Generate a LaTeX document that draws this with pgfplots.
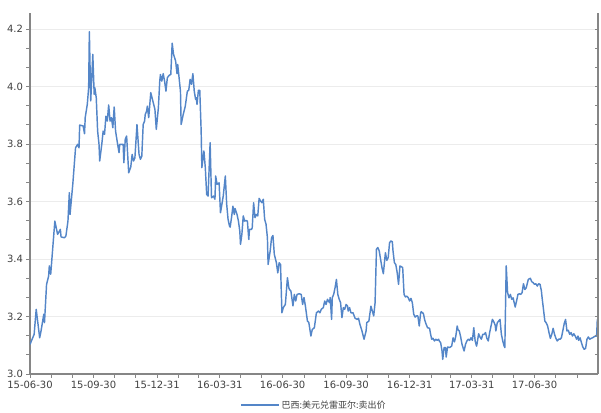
\documentclass[border=0pt]{standalone}
\usepackage{pgfplots}
\pgfplotsset{compat=1.18}
\usepackage{pgfplotstable}
\usepackage{fontspec}
\setmainfont{DejaVu Sans}
\newfontfamily\cjk{Noto Sans CJK SC}

\definecolor{brl}{RGB}{84,134,200}
\definecolor{axgray}{RGB}{134,134,134}
\definecolor{txtgray}{RGB}{64,64,64}
\definecolor{gridgray}{RGB}{236,236,236}

% days since 2015-06-30, BRL per USD (sell)
\pgfplotstableread{
day rate
0 3.103
6 3.138
9 3.225
14 3.126
16 3.150
20 3.208
21 3.179
24 3.312
27 3.341
28 3.376
30 3.347
36 3.532
40 3.486
44 3.503
45 3.477
50 3.474
52 3.480
55 3.532
57 3.631
58 3.555
62 3.660
66 3.787
69 3.799
71 3.787
72 3.866
77 3.863
79 3.836
80 3.892
83 3.938
85 3.996
86 4.191
88 3.950
91 4.112
93 3.973
94 3.996
96 3.961
98 3.845
100 3.799
101 3.741
104 3.799
106 3.845
108 3.834
110 3.897
112 3.880
114 3.936
116 3.880
118 3.892
120 3.857
122 3.929
124 3.845
127 3.799
129 3.770
130 3.799
135 3.799
136 3.735
138 3.816
140 3.828
143 3.700
146 3.720
148 3.764
150 3.741
152 3.752
155 3.868
158 3.764
160 3.747
162 3.758
164 3.868
166 3.880
167 3.903
169 3.915
170 3.932
172 3.892
175 3.979
178 3.950
181 3.921
183 3.851
186 3.926
188 4.019
189 4.042
191 4.019
193 4.045
195 4.019
197 3.984
199 4.031
202 4.040
204 4.042
206 4.151
208 4.112
211 4.089
213 4.045
214 4.077
216 4.031
218 3.984
219 3.868
222 3.903
225 3.932
228 3.984
230 3.987
232 4.025
234 4.008
236 4.045
238 3.984
240 3.955
241 3.961
242 3.938
244 3.987
246 3.987
248 3.845
249 3.718
252 3.776
254 3.718
256 3.625
258 3.619
261 3.805
263 3.613
266 3.619
268 3.608
269 3.689
271 3.660
274 3.665
276 3.561
278 3.590
280 3.619
283 3.689
285 3.590
287 3.538
289 3.515
290 3.511
292 3.544
294 3.584
296 3.555
297 3.576
300 3.555
302 3.532
304 3.497
305 3.451
307 3.486
309 3.550
311 3.532
313 3.534
315 3.532
317 3.468
318 3.503
321 3.503
322 3.509
324 3.596
326 3.544
328 3.555
330 3.550
332 3.611
334 3.602
336 3.596
338 3.608
340 3.538
342 3.521
344 3.474
345 3.381
348 3.428
350 3.474
352 3.482
354 3.416
357 3.387
359 3.352
361 3.387
363 3.381
365 3.213
367 3.231
370 3.242
373 3.335
375 3.300
376 3.294
378 3.289
381 3.237
383 3.277
385 3.254
387 3.277
390 3.279
393 3.277
395 3.242
397 3.266
399 3.237
402 3.184
404 3.179
407 3.132
409 3.155
412 3.161
415 3.213
418 3.219
420 3.213
422 3.225
425 3.231
427 3.254
429 3.242
431 3.260
434 3.248
435 3.266
437 3.190
438 3.266
440 3.277
442 3.300
444 3.329
446 3.277
448 3.260
450 3.248
452 3.196
454 3.231
456 3.225
458 3.242
460 3.237
461 3.219
463 3.231
465 3.213
468 3.213
471 3.194
474 3.190
476 3.194
478 3.173
481 3.150
484 3.121
487 3.150
488 3.179
491 3.184
494 3.236
496 3.219
498 3.202
500 3.248
502 3.434
504 3.440
506 3.428
508 3.399
510 3.370
512 3.349
514 3.399
515 3.422
517 3.395
519 3.405
521 3.457
523 3.463
525 3.460
526 3.428
528 3.387
530 3.381
532 3.353
534 3.312
536 3.376
539 3.372
540 3.370
542 3.277
544 3.268
546 3.271
548 3.266
550 3.254
552 3.263
554 3.248
556 3.208
558 3.198
560 3.202
562 3.202
564 3.167
566 3.213
567 3.217
570 3.210
572 3.187
574 3.173
576 3.161
579 3.159
580 3.144
582 3.121
584 3.124
586 3.115
588 3.121
590 3.117
592 3.121
593 3.115
595 3.109
597 3.080
598 3.051
600 3.092
602 3.092
603 3.059
605 3.094
608 3.092
611 3.097
613 3.126
615 3.112
617 3.132
619 3.167
620 3.155
622 3.150
624 3.129
626 3.103
629 3.080
631 3.103
633 3.115
635 3.121
637 3.117
639 3.126
641 3.117
643 3.161
645 3.115
647 3.097
648 3.109
650 3.140
652 3.129
654 3.121
656 3.138
658 3.138
660 3.144
662 3.124
664 3.115
666 3.144
668 3.167
670 3.190
672 3.182
674 3.170
675 3.150
677 3.178
679 3.184
681 3.190
683 3.138
685 3.115
687 3.097
688 3.092
690 3.376
692 3.283
694 3.265
696 3.277
698 3.260
700 3.265
701 3.254
703 3.233
705 3.254
707 3.277
709 3.279
711 3.277
713 3.283
715 3.314
717 3.294
719 3.300
722 3.329
725 3.333
727 3.321
729 3.318
731 3.312
733 3.314
735 3.306
737 3.314
739 3.312
741 3.289
742 3.265
744 3.225
746 3.184
748 3.178
750 3.167
752 3.144
754 3.124
756 3.138
758 3.159
760 3.138
762 3.124
764 3.115
766 3.121
768 3.121
770 3.126
772 3.150
774 3.175
776 3.190
778 3.150
780 3.152
782 3.138
784 3.144
786 3.132
788 3.140
790 3.132
792 3.121
794 3.132
795 3.117
797 3.126
799 3.109
801 3.094
803 3.086
805 3.089
807 3.121
809 3.129
811 3.121
813 3.124
815 3.126
817 3.129
819 3.132
821 3.132
822 3.190
}\brldata

\begin{document}
\begin{tikzpicture}
\useasboundingbox (-30pt,-38pt) rectangle (571pt,374pt);
\pgfplotsset{
  common/.style={
    scale only axis, width=568pt, height=361pt,
    xmin=0, xmax=823, ymin=3, ymax=4.256,
    ytick={3,3.2,3.4,3.6,3.8,4.0,4.2},
    minor y tick num=2,
    axis line style={axgray, line width=1.3pt},
    tick style={axgray, line width=0.9pt},
    major tick length=3.5pt, minor tick length=3.5pt,
  }
}
\begin{axis}[
  common,
  axis x line*=bottom, axis y line*=left,
  tick align=outside,
  xtick={0,92,184,275,366,458,550,640,731},
  xticklabels={15-06-30,15-09-30,15-12-31,16-03-31,16-06-30,16-09-30,16-12-31,17-03-31,17-06-30},
  minor xtick={31,62,123,153,215,244,305,336,397,428,489,519,581,609,670,701,762,793},
  ymajorgrids,
  major grid style={gridgray, line width=0.8pt},
  /pgf/number format/assume math mode=true,
  yticklabel style={/pgf/number format/.cd, fixed, fixed zerofill, precision=1},
  ticklabel style={font=\fontsize{10}{12}\selectfont, text=txtgray},
  legend style={at={(0.5,-0.086)}, anchor=center, draw=none, fill=none,
    font=\cjk\fontsize{9}{11}\selectfont, text=txtgray},
  legend image code/.code={\draw[#1] (0pt,0pt) -- (38pt,0pt);},
]
\addplot[brl, line width=1.45pt, line join=round] table[x=day, y=rate] {\brldata};
\addlegendentry{巴西:美元兑雷亚尔:卖出价}
\end{axis}
\begin{axis}[
  common,
  axis x line=none, axis y line*=right,
  tick align=inside,
  yticklabels={},
]
\end{axis}
\end{tikzpicture}
\end{document}
